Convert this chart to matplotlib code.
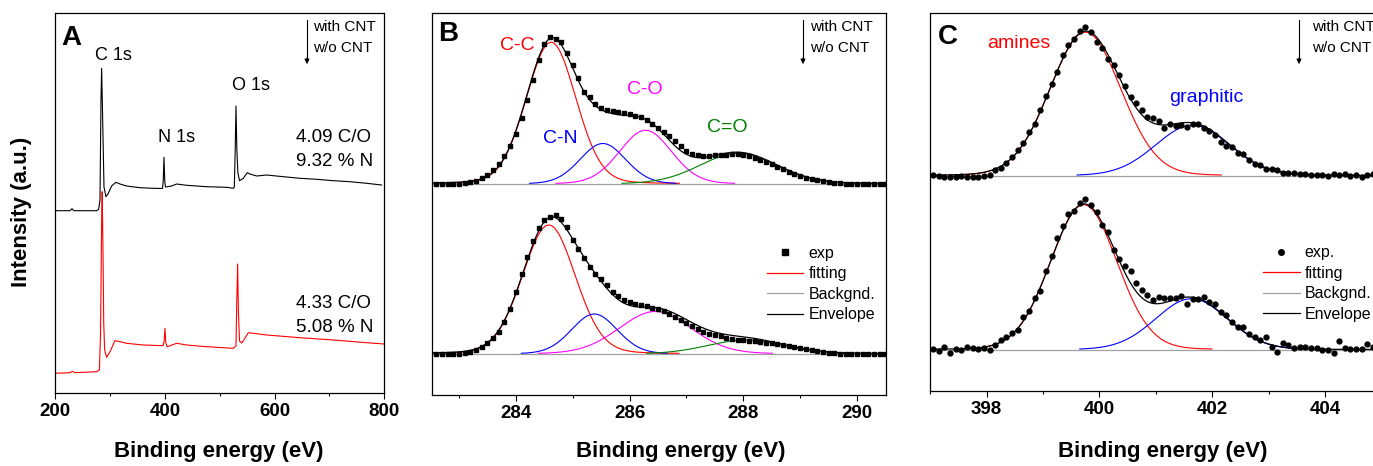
import numpy as np
import matplotlib.pyplot as plt
from matplotlib.ticker import MultipleLocator

plt.rcParams['font.family'] = ['Liberation Sans', 'DejaVu Sans']

W, H = 1373, 466

# ---- panel A: survey spectra (binding energy eV, intensity a.u., already offset)
survey_cnt_ev = [200, 226.7, 230.4, 234, 275.4, 279, 281.5, 283.3, 284.5, 286.3, 288.8,
                 292.4, 296.7, 302.7, 310.6, 317.9, 330, 354.4, 378.7, 395.5, 396.8,
                 398.2, 399.6, 401, 412.2, 421.3, 439.5, 476, 512.5, 524.6, 526.5,
                 528, 529.5, 531, 533, 536, 542.9, 550.2, 555, 567.2, 585.4, 615.8,
                 646.2, 676.6, 707, 737.4, 767.8, 795.1]
survey_cnt_int = [182.3, 182.3, 184.3, 182.3, 182.3, 183.7, 193, 293, 324.7, 276, 206,
                  196.3, 199.7, 207, 210.7, 209, 207, 205.3, 204.7, 204.5, 212,
                  235.7, 212, 206, 207, 209, 207.7, 206.3, 205.7, 204.7, 206,
                  240, 287, 245, 220, 212.3, 214.7, 220.3, 219, 217, 218, 216.3,
                  214.7, 213.7, 212.3, 211.3, 209.7, 208]
survey_nocnt_ev = [200, 226.7, 231.6, 236, 275.4, 280.5, 282.5, 284.5, 285.5, 286.8, 288.3,
                   290, 293.6, 299.7, 308.8, 317.9, 330, 360.5, 396.5, 398.5, 400, 401.5,
                   404.3, 421.3, 439.5, 476, 524.6, 529.5, 531, 532.5, 534, 536, 540,
                   545, 552, 561.1, 585.4, 646.2, 707, 767.8, 800]
survey_nocnt_int = [19.7, 20.3, 21.7, 20.3, 21.3, 23, 60, 170, 201.3, 150, 70,
                    43, 35.7, 41.3, 52.3, 51.3, 49.7, 48, 47.3, 52, 64.7, 50,
                    46.3, 49.7, 48, 46.3, 44.7, 47, 93, 129, 80, 52, 50,
                    54, 60.3, 59.7, 58, 55.3, 53, 50.3, 49]
survey_peaks = ['C 1s', 'N 1s', 'O 1s']
survey_ratios = [['4.09 C/O', '9.32 % N'], ['4.33 C/O', '5.08 % N']]
a_ticks = [200, 400, 600, 800]

# ---- panel B: C 1s high resolution (height above each baseline), 0.1 eV steps
b_ev = np.round(282.6 + 0.1 * np.arange(80), 2)
b_cnt_exp = [0, 0, 0, 0, 0.5, 1, 2, 3.5, 6, 9,
             14, 20, 28, 38, 50, 66, 84, 104, 124, 140,
             147, 145, 142, 131, 119, 106, 92, 87, 80, 76,
             74, 73, 72, 71, 70, 68, 67, 64, 60, 56,
             52, 48, 43, 38, 33, 30, 29, 28, 28, 29,
             29, 29, 30, 30, 29, 28, 26, 24, 22, 20,
             17, 15, 12, 10, 8, 6, 5, 4, 3, 2,
             1.5, 1, 0.5, 0.3, 0, 0, 0, 0, 0, 0]
b_nocnt_exp = [0, 0, 0, 0, 0.5, 1, 2.5, 4.5, 7.5, 11.5,
               16, 22, 32, 45, 62, 80, 97, 113, 126, 134,
               137, 139, 135, 127, 114, 105, 96, 87, 80, 75,
               69, 62, 58, 54, 52, 50, 49, 48, 46, 45,
               43, 40, 37, 34, 31, 28, 25, 22, 20, 19,
               18, 16, 15, 14.5, 14, 13.5, 13, 12, 11.5, 11,
               10, 9, 8, 7, 6, 5, 4, 3, 2.5, 1.5,
               1, 0.5, 0.3, 0, 0, 0, 0, 0, 0, 0]
b_names = ['C-C', 'C-N', 'C-O', 'C=O']
b_colors = ['#ff0000', '#0000ff', '#ff00ff', '#008000']
b_cnt_center = [284.62, 285.53, 286.28, 287.91]
b_cnt_height = [141.7, 40.5, 53.7, 30.7]
b_cnt_fwhm = [1.03, 0.95, 1.08, 1.6]
b_nocnt_center = [284.58, 285.38, 286.45, 288.05]
b_nocnt_height = [129, 40, 42.5, 14]
b_nocnt_fwhm = [1.1, 0.95, 1.5, 1.6]
b_ticks = [284, 286, 288, 290]

# ---- panel C: N 1s high resolution, 0.1 eV steps
c_ev = np.round(397.05 + 0.1 * np.arange(80), 2)
c_cnt_exp = [1, -0.7, -1.3, -1.7, -1, 0, -1, -1.7, -1.3, -0.3,
             1, 5.7, 7.7, 12.7, 19, 26, 33, 44, 52, 66,
             80, 92, 104, 121, 131, 137, 145, 149, 144, 134,
             128, 117, 111, 101, 90, 79, 73, 66, 59, 58,
             55, 48, 52, 50, 51, 49, 52, 52, 48, 45,
             41, 34, 30, 29, 23, 22, 16, 12, 11, 7,
             7, 6, 3, 3, 2.5, 2, 2, 1, 1, 0.5,
             0, 2, 1, 1.5, 0, 0.5, -1, 1, 1.5, 1]
c_nocnt_exp = [0.3, -1.3, 2.7, -3.3, 1, -0.3, 2.3, 2, 1, 1.7,
               -0.7, 4.3, 10, 12.7, 16.7, 20, 33, 39, 52, 59,
               79, 94, 112, 124, 136, 139, 147, 151, 145, 138,
               125, 118, 100, 91, 84, 79, 67, 60, 55, 50,
               53, 52, 52, 52, 54, 46, 51, 51, 53, 48,
               46, 38, 35, 28, 23, 23, 16, 13, 10, 13,
               3, -2, 7, 5, 2, 3, 3, 2, 2, 0,
               0, -3, 9, 2, 1, 1, 1, 6, 3, 2]
c_colors = ['#ff0000', '#0000ff']
c_cnt_center = [399.75, 401.65]
c_cnt_height = [143.5, 50.5]
c_cnt_fwhm = [1.48, 1.55]
c_nocnt_center = [399.72, 401.63]
c_nocnt_height = [145, 51]
c_nocnt_fwhm = [1.39, 1.5]
c_ticks = [398, 400, 402, 404]


def gl_peak(x, c, h, w, frac):
    # gaussian-lorentzian sum used by the fit
    u = (x - c) / w
    return h * ((1 - frac) * np.exp(-4 * np.log(2) * u ** 2) + frac / (1 + 4 * u ** 2))


def fx(px):
    return px / W


def fy(py):
    return 1 - py / H


def style(ax, ticks, minor):
    ax.set_xticks(ticks)
    ax.set_xticklabels([str(t) for t in ticks], fontweight='bold', fontsize=13.5)
    ax.xaxis.set_minor_locator(MultipleLocator(minor))
    ax.tick_params(axis='x', which='major', direction='out', length=4, width=0.8, pad=3)
    ax.tick_params(axis='x', which='minor', direction='out', length=2.5, width=0.8)
    ax.set_yticks([])
    for s in ax.spines.values():
        s.set_linewidth(0.9)


def note(px, py, s, **kw):
    fig.text(fx(px), fy(py), s, ha='left', va='center', **kw)


def arrow_note(x_arrow, x_text):
    fig.add_artist(plt.Line2D([fx(x_arrow)] * 2, [fy(20), fy(60)], color='k', lw=0.8))
    plt.annotate('', xy=(x_arrow, H - 67), xytext=(x_arrow, H - 55), xycoords='figure pixels',
                 arrowprops=dict(arrowstyle='-|>', color='k', lw=0.8, mutation_scale=7))
    note(x_text, 27, 'with CNT', fontsize=11)
    note(x_text, 48, 'w/o CNT', fontsize=11)


def fit_panel(ax, ev, exp, centers, heights, fwhms, colors, base, frac, marker, ms):
    grid = np.linspace(ev[0] - 0.1, ev[-1] + 0.2, 900)
    comps = [gl_peak(grid, c, h, w, frac) for c, h, w in zip(centers, heights, fwhms)]
    ax.plot(grid, np.full_like(grid, base), color='#a0a0a0', lw=0.9, zorder=1)
    for comp, col in zip(comps, colors):
        y = np.where(comp > 0.7, comp + base, np.nan)
        ax.plot(grid, y, color=col, lw=0.8, zorder=2)
    ax.plot(grid, base + np.sum(comps, axis=0), color='k', lw=0.9, zorder=3)
    ax.plot(ev, np.array(exp) + base, ls='none', marker=marker, ms=ms, color='k', zorder=4)


fig = plt.figure(figsize=(W / 100, H / 100), dpi=100)

# ---------------- A
axA = fig.add_axes([fx(55.3), fy(393), fx(329), 380 / H])
axA.plot(survey_nocnt_ev, survey_nocnt_int, color='#ff0000', lw=0.8, zorder=2)
axA.plot(survey_cnt_ev, survey_cnt_int, color='k', lw=0.8, zorder=3)
axA.set_xlim(200, 800)
axA.set_ylim(0, 380)
style(axA, a_ticks, 100)
axA.set_xlabel('Binding energy (eV)', fontsize=16, fontweight='bold')
axA.xaxis.set_label_coords(0.4976, -0.125)
axA.set_ylabel('Intensity (a.u.)', fontsize=16, fontweight='bold')
axA.yaxis.set_label_coords(-0.072, 0.476)
note(61, 38, 'A', fontsize=20, fontweight='bold')
for s, (px, py) in zip(survey_peaks, [(95, 55), (158, 138), (232, 86)]):
    note(px, py, s, fontsize=13)
for lines, py in zip(survey_ratios, [138, 303]):
    note(296, py, lines[0], fontsize=13.5)
    note(296, py + 24, lines[1], fontsize=13.5)
arrow_note(307, 313)

# ---------------- B
axB = fig.add_axes([fx(431.7), fy(395), fx(454.3), 382 / H])
fit_panel(axB, b_ev, b_cnt_exp, b_cnt_center, b_cnt_height, b_cnt_fwhm, b_colors, 211, 0.1, 's', 3.1)
fit_panel(axB, b_ev, b_nocnt_exp, b_nocnt_center, b_nocnt_height, b_nocnt_fwhm, b_colors, 41, 0.1, 's', 3.1)
axB.set_xlim(282.52, 290.51)
axB.set_ylim(0, 382)
style(axB, b_ticks, 1)
axB.set_xlabel('Binding energy (eV)', fontsize=16, fontweight='bold')
axB.xaxis.set_label_coords(0.549, -0.12)
note(438, 34, 'B', fontsize=20, fontweight='bold')
for s, col, (px, py) in zip(b_names, b_colors, [(500, 45), (543, 139), (627, 90), (707, 127)]):
    note(px, py, s, fontsize=14, color=col)
arrow_note(803, 810)
hB = [plt.Line2D([], [], ls='none', marker='s', ms=5, color='k'),
      plt.Line2D([], [], color='#ff0000', lw=0.9),
      plt.Line2D([], [], color='#a0a0a0', lw=0.9),
      plt.Line2D([], [], color='k', lw=0.9)]
fig.legend(hB, ['exp', 'fitting', 'Backgnd.', 'Envelope'], loc='center left',
           bbox_to_anchor=(fx(767), fy(284)), frameon=False, fontsize=11.5,
           borderpad=0, borderaxespad=0, handlelength=2.25, handletextpad=0.35,
           labelspacing=0.34, numpoints=1)

# ---------------- C
axC = fig.add_axes([fx(930.3), fy(391), fx(454), 378 / H])
fit_panel(axC, c_ev, c_cnt_exp, c_cnt_center, c_cnt_height, c_cnt_fwhm, c_colors, 215.3, 0.05, 'o', 3.5)
fit_panel(axC, c_ev, c_nocnt_exp, c_nocnt_center, c_nocnt_height, c_nocnt_fwhm, c_colors, 41.3, 0.05, 'o', 3.5)
axC.set_xlim(397.0, 405.05)
axC.set_ylim(0, 378)
style(axC, c_ticks, 1)
axC.set_xlabel('Binding energy (eV)', fontsize=16, fontweight='bold')
axC.xaxis.set_label_coords(0.5125, -0.133)
note(938, 37, 'C', fontsize=20, fontweight='bold')
note(987, 43, 'amines', fontsize=14, color='#ff0000')
note(1169, 97, 'graphitic', fontsize=14, color='#0000ff')
arrow_note(1299, 1312)
hC = [plt.Line2D([], [], ls='none', marker='o', ms=4, color='k'),
      plt.Line2D([], [], color='#ff0000', lw=0.9),
      plt.Line2D([], [], color='#a0a0a0', lw=0.9),
      plt.Line2D([], [], color='k', lw=0.9)]
fig.legend(hC, ['exp.', 'fitting', 'Backgnd.', 'Envelope'], loc='center left',
           bbox_to_anchor=(fx(1263), fy(283.5)), frameon=False, fontsize=11.5,
           borderpad=0, borderaxespad=0, handlelength=2.3, handletextpad=0.3,
           labelspacing=0.34, numpoints=1)

fig.savefig('out.png', dpi=100)
